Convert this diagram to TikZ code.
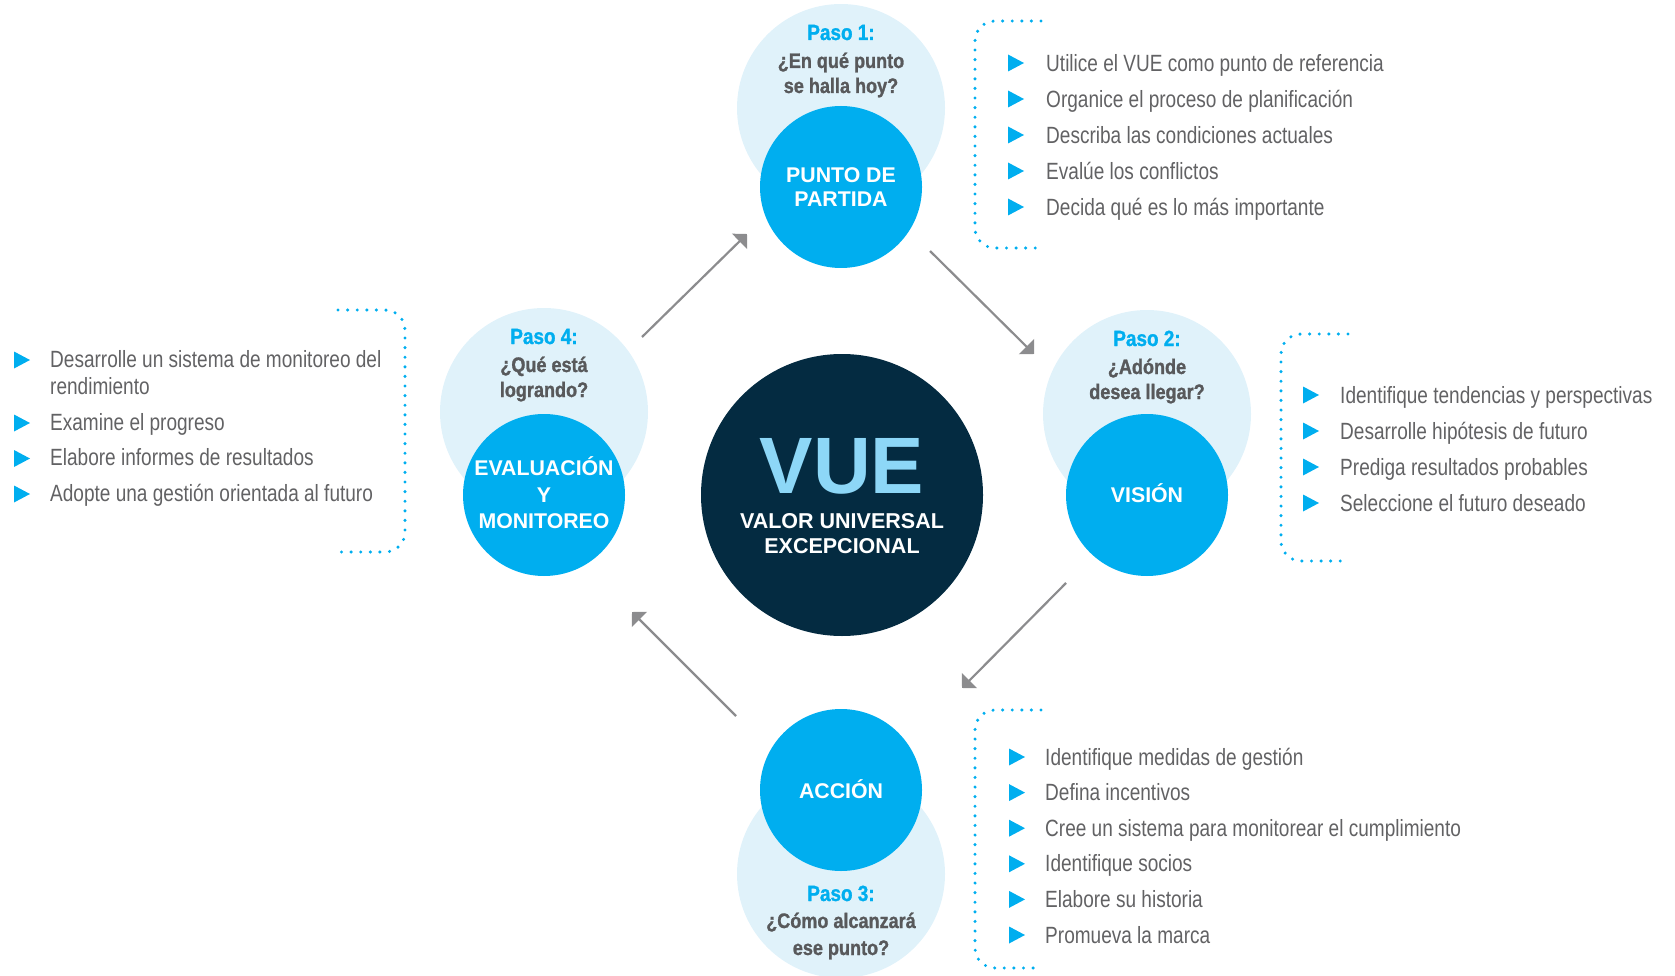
\documentclass[tikz,border=0pt]{standalone}
\usepackage{fontspec}
\setmainfont{Liberation Sans}
\newfontfamily\lstfont[FakeStretch=0.81]{Liberation Sans}
\newfontfamily\bcfont[FakeStretch=0.86, BoldFeatures={FakeBold=1.2}]{Liberation Sans}
\usetikzlibrary{arrows.meta}
\definecolor{cy}{HTML}{00AEEF}
\definecolor{lightc}{HTML}{E0F2FA}
\definecolor{navy}{HTML}{042B41}
\definecolor{vuec}{HTML}{8DD7F7}
\definecolor{qgray}{HTML}{58595B}
\definecolor{tgray}{HTML}{626264}
\definecolor{agray}{HTML}{8C8C8E}
\begin{document}
\begin{tikzpicture}[x=1pt,y=-1pt,
  light/.style={circle, fill=lightc, minimum size=208pt, inner sep=0},
  dark/.style={circle, fill=cy, minimum size=162pt, inner sep=0},
  paso/.style={anchor=base, text=cy, font=\bcfont\bfseries\fontsize{22}{26}\selectfont, inner sep=0},
  ques/.style={anchor=base, text=qgray, font=\bcfont\bfseries\fontsize{21}{25}\selectfont, inner sep=0},
  lab/.style={anchor=base, text=white, font=\bfseries\fontsize{21.3}{24}\selectfont, inner sep=0},
  item/.style={anchor=base west, text=tgray, font=\lstfont\fontsize{23.5}{27}\selectfont, inner sep=0},
  bracket/.style={draw=cy, line width=3.4pt, dash pattern=on 0pt off 9.6pt, line cap=round, rounded corners=20pt},
  flow/.style={draw=agray, line width=2.2pt, -{Triangle[length=10.5pt,width=21pt]}},
  bul/.pic={\fill[cy] (0,-8.5) -- (16,0) -- (0,8.5) -- cycle;}
]
\useasboundingbox (0,0) rectangle (1675,976);

% centre
\node[circle, fill=navy, minimum size=282pt, inner sep=0] (vue) at (842,495) {};
\node[anchor=base, text=vuec, font=\bfseries\fontsize{80}{80}\selectfont, inner sep=0] (vuet) at (842,493) {VUE};
\node[lab, font=\bfseries\fontsize{21.5}{24}\selectfont] (vuel1) at (842,528) {VALOR UNIVERSAL};
\node[lab, font=\bfseries\fontsize{21.5}{24}\selectfont] (vuel2) at (842,553) {EXCEPCIONAL};

% step 1 (top)
\node[light] (l1) at (841,108) {};
\node[dark] (d1) at (841,187) {};
\node[paso] (p1) at (841,40) {Paso 1:};
\node[ques] (q1a) at (841,68) {¿En qué punto};
\node[ques] (q1b) at (841,93) {se halla hoy?};
\node[lab] (d1a) at (841,183) {PUNTO DE};
\node[lab] (d1b) at (841,207) {PARTIDA};

% step 2 (right)
\node[light] (l2) at (1147,414) {};
\node[dark] (d2) at (1147,495) {};
\node[paso] (p2) at (1147,346) {Paso 2:};
\node[ques] (q2a) at (1147,374) {¿Adónde};
\node[ques] (q2b) at (1147,399) {desea llegar?};
\node[lab] (d2a) at (1147,502) {VISIÓN};

% step 4 (left)
\node[light] (l4) at (544,412) {};
\node[dark] (d4) at (544,495) {};
\node[paso] (p4) at (544,344) {Paso 4:};
\node[ques] (q4a) at (544,372) {¿Qué está};
\node[ques] (q4b) at (544,397) {logrando?};
\node[lab] (d4a) at (544,475) {EVALUACIÓN};
\node[lab] (d4b) at (544,502) {Y};
\node[lab] (d4c) at (544,528) {MONITOREO};

% step 3 (bottom)
\node[light] (l3) at (841,874) {};
\node[dark] (d3) at (841,790) {};
\node[paso] (p3) at (841,901) {Paso 3:};
\node[ques] (q3a) at (841,928) {¿Cómo alcanzará};
\node[ques] (q3b) at (841,955) {ese punto?};
\node[lab] (d3a) at (841,798) {ACCIÓN};

% arrows
\coordinate (a1s) at (642,337); \coordinate (a1e) at (747,234);
\coordinate (a2s) at (930,251); \coordinate (a2e) at (1034,354);
\coordinate (a3s) at (1066,583); \coordinate (a3e) at (962,688);
\coordinate (a4s) at (736,716); \coordinate (a4e) at (632,612);
\draw[flow] (a1s) -- (a1e);
\draw[flow] (a2s) -- (a2e);
\draw[flow] (a3s) -- (a3e);
\draw[flow] (a4s) -- (a4e);

% brackets
\draw[bracket] (1041,21) -| (975,248) -- (1041,248);
\draw[bracket] (1348,334) -| (1281,561) -- (1348,561);
\draw[bracket] (1041,710) -| (975,968) -- (1041,968);
\draw[bracket] (338,310) -| (405,552) -- (338,552);

% top list
\foreach \t [count=\i] in {Utilice el VUE como punto de referencia, Organice el proceso de planificación, Describa las condiciones actuales, Evalúe los conflictos, Decida qué es lo más importante}{
  \pic at (1008,{63+36*(\i-1)}) {bul};
  \node[item] (top\i) at (1046,{71.5+36*(\i-1)}) {\t};
}
% right list
\foreach \t [count=\i] in {Identifique tendencias y perspectivas, Desarrolle hipótesis de futuro, Prediga resultados probables, Seleccione el futuro deseado}{
  \pic at (1303,{395+36*(\i-1)}) {bul};
  \node[item] (rt\i) at (1340,{403+36*(\i-1)}) {\t};
}
% bottom list
\foreach \t [count=\i] in {Identifique medidas de gestión, Defina incentivos, Cree un sistema para monitorear el cumplimiento, Identifique socios, Elabore su historia, Promueva la marca}{
  \pic at (1009,{757+35.6*(\i-1)}) {bul};
  \node[item] (bt\i) at (1045,{765+35.6*(\i-1)}) {\t};
}
% left list
\pic at (14,360) {bul};
\node[item] (lt1) at (50,367) {Desarrolle un sistema de monitoreo del};
\node[item] (lt1b) at (50,394) {rendimiento};
\foreach \t [count=\i] in {Examine el progreso, Elabore informes de resultados, Adopte una gestión orientada al futuro}{
  \pic at (14,{423+35.5*(\i-1)}) {bul};
  \node[item] (lt\i x) at (50,{430+35.5*(\i-1)}) {\t};
}
\end{tikzpicture}
\end{document}
